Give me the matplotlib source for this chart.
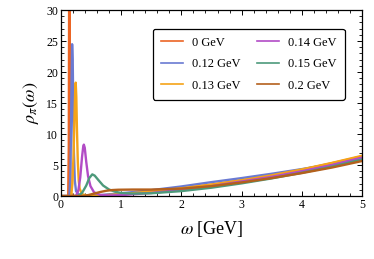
import matplotlib
matplotlib.use("Agg")
import matplotlib.pyplot as plt
from matplotlib.ticker import MultipleLocator

plt.rcParams["font.family"] = "serif"
plt.rcParams["font.serif"] = ["Liberation Serif", "DejaVu Serif"]
plt.rcParams["mathtext.fontset"] = "stix"

labels = ["0 GeV", "0.12 GeV", "0.13 GeV", "0.14 GeV", "0.15 GeV", "0.2 GeV"]
colors = ["#EB6525", "#6A7AD2", "#F5A318", "#B24CC6", "#4D9A7B", "#B4601C"]

# spectral functions (omega in GeV, rho)
w0 = [0.0, 0.12, 0.13, 0.135, 0.14, 0.145, 0.15, 0.16, 0.2, 0.3, 0.5, 1.0, 1.5, 2.0, 2.5, 3.0, 3.5, 4.0, 4.5, 5.0]
r0 = [0.0, 0.0, 8.0, 30.0, 45.0, 30.0, 8.0, 0.5, 0.05, 0.02, 0.05, 0.3, 0.75, 1.25, 1.85, 2.55, 3.35, 4.25, 5.3, 6.4]

w1 = [0.0, 0.14, 0.155, 0.165, 0.175, 0.185, 0.195, 0.205, 0.215, 0.23, 0.25, 0.3, 0.4, 0.6, 1.0, 1.5, 2.0, 2.5, 3.0, 3.5, 4.0, 4.5, 5.0]
r1 = [0.0, 0.0, 3.0, 9.0, 18.0, 24.5, 22.0, 14.0, 7.0, 2.5, 0.8, 0.2, 0.05, 0.1, 0.45, 0.95, 1.55, 2.25, 2.9, 3.6, 4.35, 5.15, 6.1]

w2 = [0.0, 0.17, 0.19, 0.21, 0.225, 0.235, 0.245, 0.255, 0.265, 0.28, 0.295, 0.31, 0.35, 0.45, 0.6, 1.0, 1.5, 2.0, 2.5, 3.0, 3.5, 4.0, 4.5, 5.0]
r2 = [0.0, 0.0, 2.0, 7.0, 13.0, 16.5, 18.3, 16.0, 11.0, 5.5, 2.5, 1.2, 0.3, 0.05, 0.05, 0.3, 0.75, 1.25, 1.85, 2.55, 3.35, 4.3, 5.35, 6.5]

w3 = [0.0, 0.25, 0.29, 0.32, 0.35, 0.37, 0.38, 0.395, 0.42, 0.45, 0.49, 0.55, 0.65, 0.8, 1.0, 1.5, 2.0, 2.5, 3.0, 3.5, 4.0, 4.5, 5.0]
r3 = [0.0, 0.0, 1.0, 3.0, 6.3, 8.0, 8.3, 7.8, 5.5, 3.2, 1.6, 0.6, 0.2, 0.1, 0.15, 0.5, 1.0, 1.6, 2.35, 3.1, 4.0, 5.0, 6.2]

w4 = [0.0, 0.28, 0.35, 0.42, 0.47, 0.52, 0.56, 0.62, 0.7, 0.8, 0.9, 1.0, 1.2, 1.5, 2.0, 2.5, 3.0, 3.5, 4.0, 4.5, 5.0]
r4 = [0.0, 0.0, 0.5, 1.7, 2.9, 3.5, 3.3, 2.6, 1.7, 1.05, 0.7, 0.5, 0.4, 0.45, 0.8, 1.35, 2.05, 2.85, 3.75, 4.75, 5.9]

w5 = [0.0, 0.35, 0.45, 0.55, 0.65, 0.75, 0.85, 0.95, 1.2, 1.5, 2.0, 2.5, 3.0, 3.5, 4.0, 4.5, 5.0]
r5 = [0.0, 0.0, 0.15, 0.4, 0.65, 0.85, 0.97, 1.02, 1.05, 1.05, 1.2, 1.6, 2.2, 2.9, 3.7, 4.6, 5.65]

series = [(w0, r0), (w1, r1), (w2, r2), (w3, r3), (w4, r4), (w5, r5)]

fig = plt.figure(figsize=(3.74, 2.59), dpi=100)
ax = fig.add_axes([0.163, 0.243, 0.805, 0.718])

for (w, r), c, lab in zip(series, colors, labels):
    ax.plot(w, r, "-", color=c, lw=1.7, label=lab, solid_joinstyle="round")

ax.set_xlim(0, 5)
ax.set_ylim(0, 30)
ax.xaxis.set_major_locator(MultipleLocator(1))
ax.xaxis.set_minor_locator(MultipleLocator(0.2))
ax.yaxis.set_major_locator(MultipleLocator(5))
ax.yaxis.set_minor_locator(MultipleLocator(1))
ax.tick_params(which="both", direction="in", top=True, right=True, labelsize=8.5, pad=2)
ax.tick_params(which="major", length=3.5, width=0.7)
ax.tick_params(which="minor", length=2, width=0.6)
for s in ax.spines.values():
    s.set_linewidth(0.9)

ax.set_xlabel(r"$\omega$ [GeV]", fontsize=13, labelpad=6)
ax.set_ylabel(r"$\rho_\pi(\omega)$", fontsize=13, labelpad=4)

leg = ax.legend(ncol=2, loc="upper right", bbox_to_anchor=(0.942, 0.9), borderaxespad=0,
                fontsize=9, frameon=True, fancybox=True, edgecolor="black",
                handlelength=1.8, columnspacing=1.3, handletextpad=0.7,
                borderpad=0.65, labelspacing=0.75)
leg.get_frame().set_linewidth(0.9)
leg.get_frame().set_alpha(1)
for h in leg.get_lines():
    h.set_linewidth(1.2)

fig.savefig("out.png", dpi=100)
